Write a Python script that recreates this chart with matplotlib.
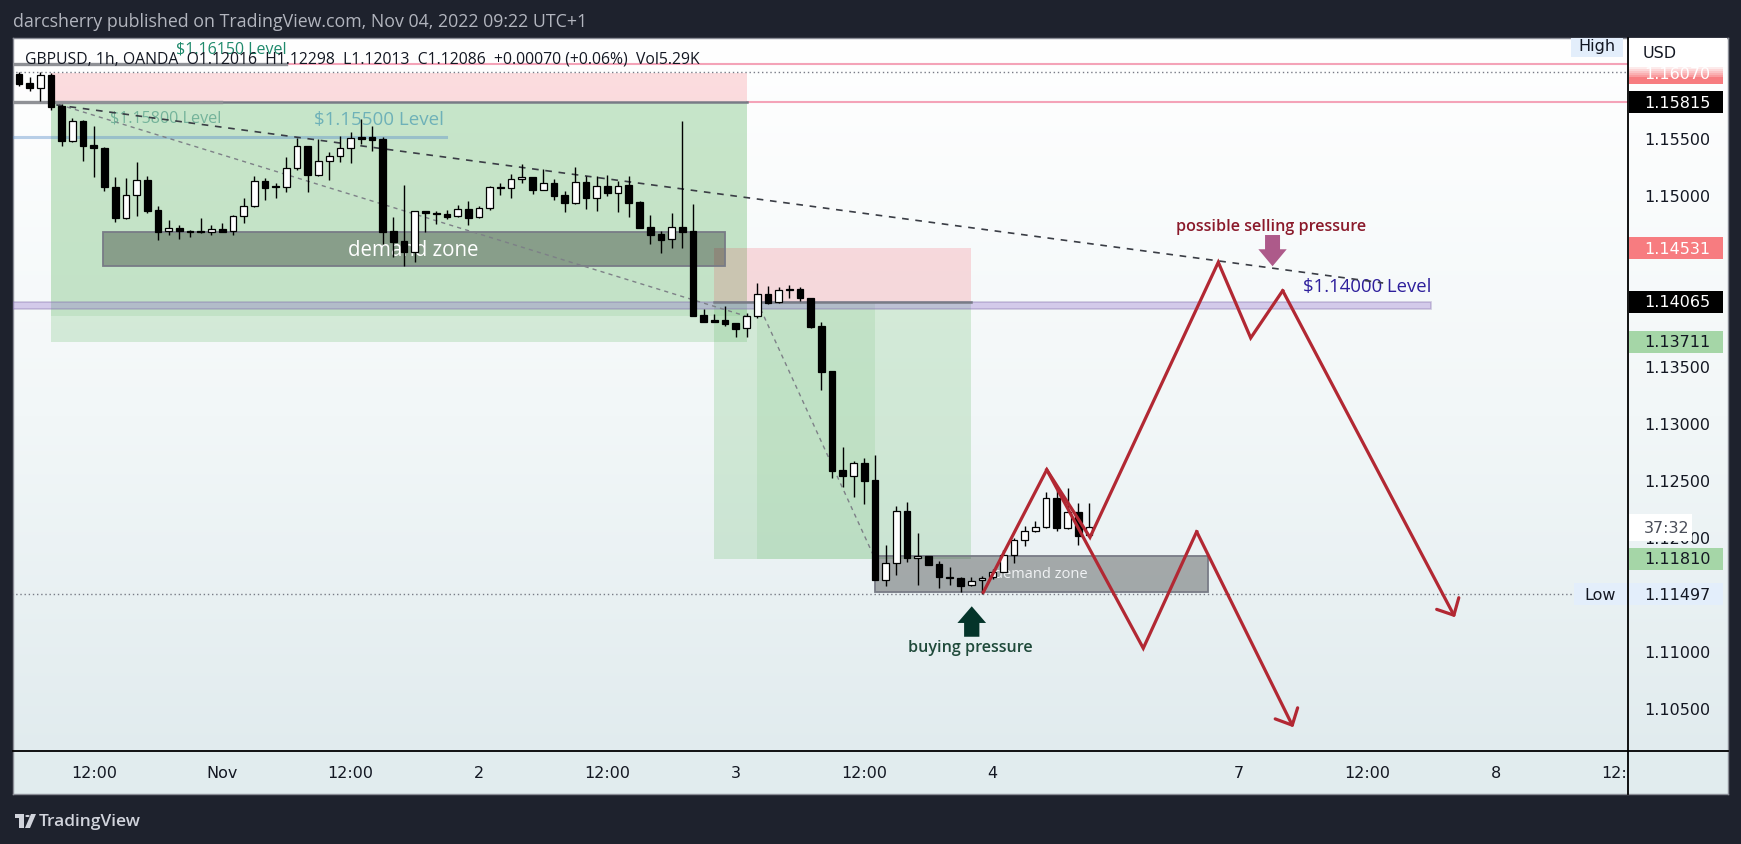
import numpy as np
import matplotlib.pyplot as plt
from matplotlib.colors import LinearSegmentedColormap
from matplotlib.lines import Line2D
from matplotlib.patches import Rectangle, FancyArrow, Polygon, Circle
from matplotlib.transforms import blended_transform_factory, Bbox, TransformedBbox

plt.rcParams['font.family'] = ['DejaVu Sans']

# ---- data ----
# bar index = hourly candles counted from 31 Oct 00:00 (weekend hours skipped)
bars = np.arange(5, 106)
opens = [1.16061, 1.15982, 1.15936, 1.16053, 1.15784, 1.15471, 1.15649, 1.15439, 1.15412, 1.15070,
         1.14795, 1.15000, 1.15129, 1.14866, 1.14684, 1.14708, 1.14687, 1.14684, 1.14678, 1.14699,
         1.14681, 1.14813, 1.14906, 1.15120, 1.15073, 1.15067, 1.15234, 1.15427, 1.15178, 1.15295,
         1.15339, 1.15409, 1.15506, 1.15506, 1.15491, 1.14681, 1.14594, 1.14497, 1.14857, 1.14839,
         1.14833, 1.14813, 1.14874, 1.14804, 1.14883, 1.15070, 1.15064, 1.15138, 1.15155, 1.15047,
         1.15103, 1.15000, 1.14933, 1.15111, 1.14977, 1.15076, 1.15021, 1.15085, 1.14936, 1.14719,
         1.14658, 1.14611, 1.14719, 1.14681, 1.13948, 1.13901, 1.13904, 1.13878, 1.13831, 1.13936,
         1.14129, 1.14059, 1.14173, 1.14176, 1.14094, 1.13848, 1.13454, 1.12588, 1.12533, 1.12647,
         1.12500, 1.11626, 1.11769, 1.12226, 1.11813, 1.11831, 1.11764, 1.11644, 1.11638, 1.11576,
         1.11623, 1.11647, 1.11696, 1.11842, 1.11977, 1.12056, 1.12091, 1.12340, 1.12076, 1.12217,
         1.12016]
highs = [1.16082, 1.16032, 1.16076, 1.16070, 1.15798, 1.15673, 1.15658, 1.15608, 1.15418, 1.15155,
         1.15149, 1.15287, 1.15164, 1.14906, 1.14778, 1.14740, 1.14696, 1.14795, 1.14737, 1.14754,
         1.14825, 1.14971, 1.15170, 1.15149, 1.15102, 1.15330, 1.15500, 1.15433, 1.15491, 1.15374,
         1.15520, 1.15550, 1.15667, 1.15603, 1.15506, 1.14807, 1.15088, 1.14857, 1.14860, 1.14863,
         1.14869, 1.14912, 1.14948, 1.14907, 1.15082, 1.15105, 1.15184, 1.15272, 1.15158, 1.15228,
         1.15141, 1.15032, 1.15246, 1.15170, 1.15164, 1.15176, 1.15126, 1.15164, 1.14945, 1.14825,
         1.14687, 1.14842, 1.15652, 1.14921, 1.14000, 1.13957, 1.14024, 1.13881, 1.13962, 1.14228,
         1.14199, 1.14190, 1.14211, 1.14190, 1.14094, 1.13883, 1.13454, 1.12787, 1.12667, 1.12690,
         1.12720, 1.11930, 1.12269, 1.12304, 1.12033, 1.11837, 1.11793, 1.11734, 1.11647, 1.11647,
         1.11661, 1.11720, 1.11889, 1.11989, 1.12100, 1.12144, 1.12392, 1.12416, 1.12427, 1.12296,
         1.12298]
lows = [1.15959, 1.15909, 1.15827, 1.15749, 1.15433, 1.15465, 1.15301, 1.15161, 1.15032, 1.14766,
        1.14790, 1.14819, 1.14839, 1.14608, 1.14652, 1.14614, 1.14629, 1.14670, 1.14652, 1.14675,
        1.14652, 1.14751, 1.14898, 1.14959, 1.14971, 1.15029, 1.15219, 1.15023, 1.15164, 1.15135,
        1.15287, 1.15278, 1.15448, 1.15389, 1.14570, 1.14453, 1.14380, 1.14415, 1.14673, 1.14746,
        1.14790, 1.14810, 1.14737, 1.14801, 1.14872, 1.15000, 1.14974, 1.15105, 1.15009, 1.15044,
        1.14959, 1.14854, 1.14921, 1.14877, 1.14863, 1.14994, 1.14854, 1.14810, 1.14711, 1.14570,
        1.14491, 1.14535, 1.14538, 1.13936, 1.13886, 1.13886, 1.13854, 1.13758, 1.13758, 1.13919,
        1.14047, 1.14056, 1.14094, 1.14073, 1.13831, 1.13293, 1.12518, 1.12442, 1.12354, 1.12290,
        1.11623, 1.11573, 1.11670, 1.11778, 1.11582, 1.11755, 1.11550, 1.11582, 1.11521, 1.11573,
        1.11497, 1.11632, 1.11690, 1.11772, 1.11919, 1.12047, 1.12082, 1.12056, 1.12073, 1.11930,
        1.12013]
closes = [1.15974, 1.15936, 1.16053, 1.15775, 1.15471, 1.15649, 1.15433, 1.15409, 1.15067, 1.14795,
          1.14997, 1.15129, 1.14863, 1.14678, 1.14708, 1.14681, 1.14673, 1.14673, 1.14699, 1.14678,
          1.14816, 1.14906, 1.15120, 1.15064, 1.15067, 1.15234, 1.15427, 1.15178, 1.15295, 1.15339,
          1.15409, 1.15497, 1.15494, 1.15486, 1.14679, 1.14591, 1.14497, 1.14857, 1.14839, 1.14831,
          1.14810, 1.14874, 1.14801, 1.14883, 1.15067, 1.15064, 1.15138, 1.15155, 1.15047, 1.15103,
          1.14994, 1.14933, 1.15111, 1.14977, 1.15076, 1.15021, 1.15082, 1.14933, 1.14714, 1.14652,
          1.14608, 1.14717, 1.14679, 1.13942, 1.13889, 1.13889, 1.13869, 1.13828, 1.13936, 1.14129,
          1.14056, 1.14164, 1.14167, 1.14094, 1.13845, 1.13451, 1.12582, 1.12533, 1.12647, 1.12495,
          1.11626, 1.11769, 1.12226, 1.11813, 1.11831, 1.11758, 1.11647, 1.11638, 1.11573, 1.11617,
          1.11644, 1.11696, 1.11842, 1.11977, 1.12056, 1.12091, 1.12340, 1.12076, 1.12217, 1.12012,
          1.12086]

time_ticks = [12, 24, 36, 48, 60, 72, 84, 96, 119, 131, 143, 155]
time_labels = ['12:00', 'Nov', '12:00', '2', '12:00', '3', '12:00', '4', '7', '12:00', '8', '12:00']
price_ticks = [1.105, 1.110, 1.120, 1.125, 1.130, 1.135, 1.150, 1.155]

# short positions: [start bar, end bar], [stop, entry, target], filled bars
pos1_bars = [8, 73]
pos1_prices = [1.16070, 1.15815, 1.13711]
pos1_fill = [8, 73]
pos2_bars = [70, 94]
pos2_prices = [1.14531, 1.14065, 1.11810]
pos2_fill = [74, 85]

demand1_bars = [12.9, 71.0]
demand1_prices = [1.14380, 1.14673]
demand2_bars = [85.0, 116.1]
demand2_prices = [1.11515, 1.11831]

band_prices = [1.14000, 1.14060]
band_end = 137.0
level_prices = [1.16150, 1.15820, 1.15510]
level_ends = [30.0, 23.9, 44.9]

trend_bars = [8.5, 132.5]
trend_prices = [1.15790, 1.14228]

zig1_x = [95.13, 101.06, 105.10, 117.09, 120.12, 123.11, 139.21]
zig1_y = [1.11515, 1.12590, 1.11997, 1.14410, 1.13746, 1.14161, 1.11296]
zig2_x = [101.06, 110.08, 115.07, 124.10]
zig2_y = [1.12590, 1.11024, 1.12047, 1.10331]

# ---- figure ----
W, H = 1741, 845
def fx(px):
    return px / W
def fy(py):
    return 1 - py / H

fig = plt.figure(figsize=(17.41, 8.45), dpi=100)
fig.patch.set_facecolor('#1e222d')

# chart panel background (gradient)
bg = fig.add_axes([fx(13), fy(795), fx(1728) - fx(13), fy(39) - fy(795)])
cmap = LinearSegmentedColormap.from_list('tvbg', ['#ffffff', '#f2f7f8', '#dfeaed'])
bg.imshow(np.linspace(0, 1, 256)[:, None], aspect='auto', cmap=cmap,
          extent=[0, 1, 0, 1], origin='upper')
bg.add_patch(Rectangle((0, 0), 1, 43 / 756, color='#e1ecee', zorder=2))
bg.set_xlim(0, 1)
bg.set_ylim(0, 1)
bg.set_xticks([])
bg.set_yticks([])
for s in bg.spines.values():
    s.set_color('#8a8d96')
    s.set_linewidth(1)

ax = fig.add_axes([fx(13), fy(752), fx(1628) - fx(13), fy(39) - fy(752)])
ax.patch.set_alpha(0)
ax.set_xlim(4.45, 155.38)
ax.set_ylim(1.101228, 1.163772)
for s in ax.spines.values():
    s.set_visible(False)

ax.yaxis.tick_right()
ax.set_yticks(price_ticks)
ax.set_yticklabels(['%.5f' % p for p in price_ticks])
ax.tick_params(axis='y', length=0, pad=11.5, labelsize=11.5, labelcolor='#131722')
ax.set_xticks(time_ticks)
ax.set_xticklabels(time_labels)
ax.tick_params(axis='x', length=0, pad=10, labelsize=11.5, labelcolor='#131722')
last = ax.xaxis.get_major_ticks()[-1].label1
last.set_clip_box(TransformedBbox(Bbox([[0, -1], [1, 0]]), ax.transAxes))
last.set_clip_on(True)

green = '#4caf50'
red_fill = '#f23645'

# position tools
def position(xb, prices, fill, fill_price):
    stop, entry, target = prices
    ax.add_patch(Rectangle((xb[0], entry), xb[1] - xb[0], stop - entry,
                           fc=red_fill, alpha=0.17, lw=0, zorder=1))
    ax.add_patch(Rectangle((xb[0], target), xb[1] - xb[0], entry - target,
                           fc=green, alpha=0.2, lw=0, zorder=1))
    ax.add_patch(Rectangle((fill[0], fill_price), fill[1] - fill[0], entry - fill_price,
                           fc=green, alpha=0.12, lw=0, zorder=1))
    ax.plot(xb, [entry, entry], color='#787b86', lw=1.8, zorder=2.2)
    ax.plot(fill, [entry, fill_price], color='#7d8087', lw=1, ls=(0, (3, 3)), zorder=3)

position(pos1_bars, pos1_prices, pos1_fill, closes[pos1_fill[1] - bars[0]])
position(pos2_bars, pos2_prices, pos2_fill, pos2_prices[2])

# pink extension lines to the right
ax.plot([level_ends[0], 160], [level_prices[0]] * 2, color='#f4a3b8', lw=1.5, zorder=2)
ax.plot([pos1_bars[1], 160], [pos1_prices[1]] * 2, color='#f4a3b8', lw=1.5, zorder=2)

# 1.14 band
ax.add_patch(Rectangle((0, band_prices[0]), band_end, band_prices[1] - band_prices[0],
                       fc='#9575cd', alpha=0.35, ec='#7e6aa8', lw=1.2, zorder=1.6))

# demand zones
for xb, pb in [(demand1_bars, demand1_prices), (demand2_bars, demand2_prices)]:
    ax.add_patch(Rectangle((xb[0], pb[0]), xb[1] - xb[0], pb[1] - pb[0],
                           fc=(0, 0, 0, 0.3), ec='#787b86', lw=1.3, zorder=2))
ax.text(sum(demand1_bars) / 2 - 0.1, 1.14520, 'demand zone', color='white', fontsize=14.8,
        family='Open Sans', ha='center', va='center', zorder=3.5)
ax.text(sum(demand2_bars) / 2, 1.11684, 'demand zone', color='#f0f2f4', fontsize=10.5,
        family='Open Sans', ha='center', va='center', zorder=3.5)

# level lines
ax.plot([0, level_ends[0]], [level_prices[0]] * 2, color='#8f9196', lw=2.4, zorder=2.4)
ax.plot([0, level_ends[1]], [level_prices[1]] * 2, color='#8f9196', lw=2.4, zorder=2.4)
ax.plot([0, level_ends[2]], [level_prices[2]] * 2, color='#5b8fc9', alpha=0.42, lw=2.2, zorder=2.4)
ax.text(level_ends[0], 1.16287, '$1.16150 Level', color='#1f8a6c', fontsize=11.5,
        family='Open Sans', ha='right', va='center', zorder=3.5)
ax.text(level_ends[1], 1.15684, '$1.15800 Level', color='#74b39a', fontsize=11.6,
        family='Open Sans', ha='right', va='center', zorder=3.5)
ax.text(44.7, 1.15667, '$1.15500 Level', color='#6eb1b8', fontsize=13.5,
        family='Open Sans', ha='right', va='center', zorder=3.5)
ax.text(band_end, 1.14204, '$1.14000 Level', color='#2e1f9c', fontsize=13.3,
        family='Open Sans', ha='right', va='center', zorder=3.5)

# trend line
ax.plot(trend_bars, trend_prices, color='#3a3d45', lw=1.2, ls=(0, (4, 4)), zorder=4)

# high / low markers
hi, lo = max(highs), min(lows)
ax.plot([0, 160], [hi, hi], color='#787b86', lw=1, ls=(0, (1, 2)), zorder=2)
ax.plot([0, 150.5], [lo, lo], color='#787b86', lw=1, ls=(0, (1, 2)), zorder=2)

# candles
o = np.array(opens)
h = np.array(highs)
l = np.array(lows)
c = np.array(closes)
up = c >= o
body_lo = np.minimum(o, c)
body_h = np.maximum(np.abs(c - o), 0.00009)
ax.vlines(bars, l, h, color='black', lw=1.0, zorder=5)
ax.bar(bars, body_h, bottom=body_lo, width=0.62, color=np.where(up, 'white', 'black'),
       edgecolor='black', linewidth=0.9, zorder=6)

# projection zigzags
zred = '#b22833'
ax.plot(zig1_x[:-1], zig1_y[:-1], color=zred, lw=2.3, solid_joinstyle='miter', zorder=7)
ax.plot(zig2_x[:-1], zig2_y[:-1], color=zred, lw=2.3, solid_joinstyle='miter', zorder=7)
for zx, zy in [(zig1_x, zig1_y), (zig2_x, zig2_y)]:
    ax.annotate('', xy=(zx[-1], zy[-1]), xytext=(zx[-2], zy[-2]),
                arrowprops=dict(arrowstyle='->,head_length=0.95,head_width=0.9', color=zred,
                                lw=2.3, shrinkA=0, shrinkB=0, mutation_scale=10), zorder=7)

# pressure arrows and notes
ax.add_patch(FancyArrow(122.16, 1.14649, 0, 1.14375 - 1.14649, width=1.40, head_width=2.65,
                        head_length=0.00149, length_includes_head=True, color='#ad5a8a',
                        lw=0, zorder=7))
ax.text(122.0, 1.14731, 'possible selling pressure', color='#8b1a2b', fontsize=11.6,
        family='Open Sans', fontweight='semibold', ha='center', va='center', zorder=7)
ax.add_patch(FancyArrow(94.05, 1.11125, 0, 1.11392 - 1.11125, width=1.43, head_width=2.68,
                        head_length=0.00146, length_includes_head=True, color='#04342a',
                        lw=0, zorder=7))
ax.text(93.95, 1.11033, 'buying pressure', color='#1f4a3a', fontsize=11.6,
        family='Open Sans', fontweight='semibold', ha='center', va='center', zorder=7)

# price-axis labels
tr = blended_transform_factory(ax.transAxes, ax.transData)
bx0 = (1629 - 13) / 1615
bw = 94 / 1615
tx0 = (1644 - 13) / 1615
lab_h = 22 / 11400

def price_label(p, fc, tc, text=None, w=bw, hgt=lab_h):
    ax.add_patch(Rectangle((bx0, p - hgt / 2), w, hgt, fc=fc, ec='none', transform=tr,
                           clip_on=False, zorder=8))
    ax.text(tx0, p, text if text else '%.5f' % p, color=tc, fontsize=11.5, ha='left',
            va='center', transform=tr, clip_on=False, zorder=9)

price_label(pos1_prices[0], '#f77c80', 'white')
price_label(pos1_prices[1], 'black', 'white')
price_label(pos2_prices[0], '#f77c80', 'white')
price_label(pos2_prices[1], 'black', 'white')
price_label(pos1_prices[2], '#a5d6a7', '#131722')
price_label(pos2_prices[2], '#a5d6a7', '#131722')
price_label(lo, '#e3eefb', '#131722')
price_label(closes[-1], 'white', '#4a4e59', text='37:32', w=63 / 1615, hgt=27 / 11400)

# cover the top of the price scale (USD header fades over the top label)
fig.add_artist(Rectangle((fx(1629), fy(68)), fx(1727) - fx(1629), fy(39) - fy(68),
                         transform=fig.transFigure, fc='white', ec='none', zorder=3))
for k, a in enumerate([0.85, 0.7, 0.55, 0.4, 0.25]):
    fig.add_artist(Rectangle((fx(1629), fy(70 + 2 * k)), fx(1727) - fx(1629), 2 / H,
                             transform=fig.transFigure, fc='white', alpha=a, ec='none', zorder=3))
fig.text(fx(1643), fy(53), 'USD', color='#131722', fontsize=11.5, va='center', zorder=4)

# High / Low tags
fig.add_artist(Rectangle((fx(1571), fy(58)), fx(1623) - fx(1571), fy(39) - fy(58),
                         transform=fig.transFigure, fc='#e3eefb', ec='none', zorder=3))
fig.text(fx(1597), fy(46), 'High', color='#131722', fontsize=11.5, ha='center', va='center', zorder=4)
fig.add_artist(Rectangle((fx(1574), fy(606)), fx(1627) - fx(1574), fy(584) - fy(606),
                         transform=fig.transFigure, fc='#e3eefb', ec='none', zorder=3))
fig.text(fx(1600), fy(595), 'Low', color='#131722', fontsize=11.5, ha='center', va='center', zorder=4)

# scale separators
fig.add_artist(Line2D([fx(13), fx(1728)], [fy(752), fy(752)], color='black', lw=1.3, zorder=5))
fig.add_artist(Line2D([fx(1628), fx(1628)], [fy(39), fy(795)], color='black', lw=1.3, zorder=5))

# header / footer
fig.text(fx(13), fy(22), 'darcsherry published on TradingView.com, Nov 04, 2022 09:22 UTC+1',
         color='#b2b5be', fontsize=12.8, family='Open Sans', va='center')
fig.text(fx(25), fy(59),
         'GBPUSD, 1h, OANDA  O%.5f  H%.5f  L%.5f  C%.5f  +0.00070 (+0.06%%)  Vol5.29K'
         % (opens[-1], highs[-1], lows[-1], closes[-1]),
         color='#131722', fontsize=11.3, family='Open Sans', va='center', zorder=4)

fig.add_artist(Rectangle((fx(15), fy(819)), fx(24) - fx(15), fy(815) - fy(819),
                         transform=fig.transFigure, fc='#d1d4dc', ec='none'))
fig.add_artist(Rectangle((fx(19), fy(829)), fx(24) - fx(19), fy(819) - fy(829),
                         transform=fig.transFigure, fc='#d1d4dc', ec='none'))
fig.add_artist(Circle((fx(27.5), fy(817)), 2.2 / W, transform=fig.transFigure, fc='#d1d4dc', ec='none'))
fig.add_artist(Polygon([(fx(31), fy(815)), (fx(36), fy(815)), (fx(30), fy(829)), (fx(25), fy(829))],
                       closed=True, transform=fig.transFigure, fc='#d1d4dc', ec='none'))
fig.text(fx(39), fy(822), 'TradingView', color='#d1d4dc', fontsize=12.5, family='Open Sans',
         fontweight='semibold', va='center')

fig.savefig('out.png', dpi=100, facecolor=fig.get_facecolor())
